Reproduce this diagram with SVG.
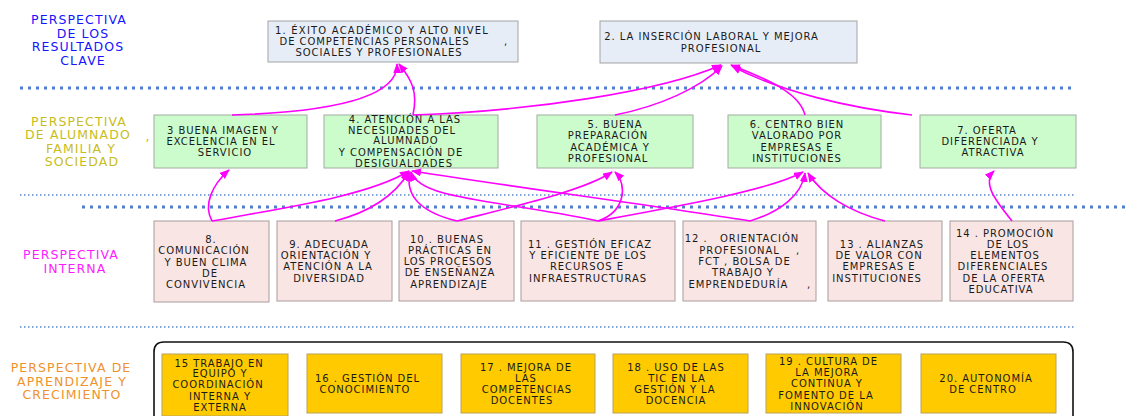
<svg xmlns="http://www.w3.org/2000/svg" width="1126" height="416" viewBox="0 0 1126 416">
<style>
.t{font-family:"DejaVu Sans","Liberation Sans",sans-serif;font-size:10px;letter-spacing:0.95px;fill:#1a1a1a;text-anchor:middle}
.lab{font-family:"DejaVu Sans","Liberation Sans",sans-serif;font-size:12.5px;letter-spacing:1.1px;text-anchor:middle}
.blue{fill:#1414ff}.olive{fill:#c8bd1a}.mag{fill:#ff1aff}.orange{fill:#f0922c}
.top{fill:#e7edf7;stroke:#a3a3a3;stroke-width:1}
.grn{fill:#ccfccc;stroke:#a3aca3;stroke-width:1}
.pnk{fill:#f9e6e4;stroke:#a89c9c;stroke-width:1}
.yel{fill:#ffcb00;stroke:#b9a15a;stroke-width:1}
.dotA{stroke:#4f7fcb;stroke-width:3;stroke-dasharray:3 5;fill:none}
.dotB{stroke:#5a88cc;stroke-width:1.5;stroke-dasharray:1.5 2.5;fill:none}
.c{fill:none;stroke:#ff00ff;stroke-width:1.6;marker-end:url(#ah)}
</style>
<defs>
<marker id="ah" viewBox="0 0 10 8" refX="9" refY="4" markerWidth="10" markerHeight="8" markerUnits="userSpaceOnUse" orient="auto">
<path d="M0,0 L10,4 L0,8 z" fill="#ff00ff"/>
</marker>
</defs>
<rect width="1126" height="416" fill="#ffffff"/>

<g id="separators">
<line class="dotA" x1="20" y1="88" x2="1075" y2="88"/>
<line class="dotB" x1="20" y1="195" x2="1075" y2="195"/>
<line class="dotA" x1="82" y1="207" x2="1126" y2="207"/>
<line class="dotB" x1="20" y1="327" x2="1075" y2="327"/>
</g>

<g id="labels">
<text class="lab blue" x="79" y="23.5">PERSPECTIVA</text>
<text class="lab blue" x="83" y="37.5">DE LOS</text>
<text class="lab blue" x="78" y="51">RESULTADOS</text>
<text class="lab blue" x="83" y="64.5">CLAVE</text>
<text class="lab olive" x="79" y="125.5">PERSPECTIVA</text>
<text class="lab olive" x="78" y="138.5">DE ALUMNADO</text>
<text class="lab olive" x="81" y="152.5">FAMILIA Y</text>
<text class="lab olive" x="82" y="165.5">SOCIEDAD</text>
<text class="lab olive" x="148" y="141">,</text>
<text class="lab mag" x="71" y="258.5">PERSPECTIVA</text>
<text class="lab mag" x="75" y="272.5">INTERNA</text>
<text class="lab orange" x="71" y="371.5">PERSPECTIVA DE</text>
<text class="lab orange" x="72" y="385.5">APRENDIZAJE Y</text>
<text class="lab orange" x="72" y="398.5">CRECIMIENTO</text>
</g>

<g id="container">
<path d="M154,426 V352 Q154,342 164,342 H1063 Q1073,342 1073,352 V426" fill="none" stroke="#111111" stroke-width="1.6"/>
</g>

<g id="n1"><rect class="top" x="268" y="21" width="250" height="41"/>
<text class="t" x="382" y="33.6" style="letter-spacing:1.2px">1. ÉXITO ACADÉMICO Y ALTO NIVEL</text>
<text class="t" x="374.5" y="44.6">DE COMPETENCIAS PERSONALES</text>
<text class="t" x="506" y="44.6">,</text>
<text class="t" x="379" y="55.6">SOCIALES Y PROFESIONALES</text></g>

<g id="n2"><rect class="top" x="600" y="21" width="257" height="42"/>
<text class="t" x="711.5" y="39.6">2. LA INSERCIÓN LABORAL Y MEJORA</text>
<text class="t" x="721" y="51.6">PROFESIONAL</text></g>

<g id="n3"><rect class="grn" x="154" y="115" width="153" height="53"/>
<text class="t" x="223" y="133.6">3 BUENA IMAGEN Y</text>
<text class="t" x="221" y="144.6">EXCELENCIA EN EL</text>
<text class="t" x="225" y="155.6">SERVICIO</text></g>

<g id="n4"><rect class="grn" x="324" y="115" width="174" height="53"/>
<text class="t" x="405" y="122.6">4. ATENCIÓN A LAS</text>
<text class="t" x="402" y="133.6">NECESIDADES DEL</text>
<text class="t" x="406" y="144.4">ALUMNADO</text>
<text class="t" x="401" y="155.9">Y COMPENSACIÓN DE</text>
<text class="t" x="404" y="167.3">DESIGUALDADES</text></g>

<g id="n5"><rect class="grn" x="537" y="115" width="156" height="53"/>
<text class="t" x="615" y="127.6">5. BUENA</text>
<text class="t" x="608" y="138.6">PREPARACIÓN</text>
<text class="t" x="610" y="150.6">ACADÉMICA Y</text>
<text class="t" x="608" y="161.6">PROFESIONAL</text></g>

<g id="n6"><rect class="grn" x="728" y="115" width="153" height="53"/>
<text class="t" x="797" y="127.6">6. CENTRO BIEN</text>
<text class="t" x="797" y="138.6">VALORADO POR</text>
<text class="t" x="797" y="150.6">EMPRESAS E</text>
<text class="t" x="797" y="161.6">INSTITUCIONES</text></g>

<g id="n7"><rect class="grn" x="920" y="115" width="156" height="53"/>
<text class="t" x="987" y="133.6">7. OFERTA</text>
<text class="t" x="990" y="144.6">DIFERENCIADA Y</text>
<text class="t" x="993" y="155.6">ATRACTIVA</text></g>

<g id="n8"><rect class="pnk" x="154" y="221" width="115" height="81"/>
<text class="t" x="211" y="242.6">8.</text>
<text class="t" x="204" y="253.6">COMUNICACIÓN</text>
<text class="t" x="206" y="265.6">Y BUEN CLIMA</text>
<text class="t" x="210" y="276.6">DE</text>
<text class="t" x="206" y="287.6">CONVIVENCIA</text></g>

<g id="n9"><rect class="pnk" x="277" y="221" width="115" height="80"/>
<text class="t" x="329" y="247.6">9. ADECUADA</text>
<text class="t" x="326" y="258.6">ORIENTACIÓN Y</text>
<text class="t" x="328" y="269.6">ATENCIÓN A LA</text>
<text class="t" x="329" y="281.6">DIVERSIDAD</text></g>

<g id="n10"><rect class="pnk" x="399" y="221" width="115" height="80"/>
<text class="t" x="447" y="242.6">10 . BUENAS</text>
<text class="t" x="450" y="253.6">PRÁCTICAS EN</text>
<text class="t" x="448" y="264.6">LOS PROCESOS</text>
<text class="t" x="450" y="275.6">DE ENSEÑANZA</text>
<text class="t" x="449" y="287.6">APRENDIZAJE</text></g>

<g id="n11"><rect class="pnk" x="521" y="221" width="154" height="80"/>
<text class="t" x="590" y="247.6">11 . GESTIÓN EFICAZ</text>
<text class="t" x="588" y="258.6">Y EFICIENTE DE LOS</text>
<text class="t" x="587" y="269.6">RECURSOS E</text>
<text class="t" x="588" y="281.6">INFRAESTRUCTURAS</text></g>

<g id="n12"><rect class="pnk" x="683" y="221" width="133" height="80"/>
<text class="t" x="742" y="241.6" xml:space="preserve">12 .   ORIENTACIÓN</text>
<text class="t" x="739.5" y="253.6">PROFESIONAL</text>
<text class="t" x="798" y="253.6">,</text>
<text class="t" x="744.5" y="264.6">FCT , BOLSA DE</text>
<text class="t" x="743" y="275.6">TRABAJO Y</text>
<text class="t" x="738.5" y="287.6">EMPRENDEDURÍA</text>
<text class="t" x="809" y="287.6">,</text></g>

<g id="n13"><rect class="pnk" x="828" y="221" width="114" height="80"/>
<text class="t" x="882" y="247.6">13 . ALIANZAS</text>
<text class="t" x="879" y="258.6">DE VALOR CON</text>
<text class="t" x="879" y="270.1">EMPRESAS E</text>
<text class="t" x="877" y="281.6">INSTITUCIONES</text></g>

<g id="n14"><rect class="pnk" x="950" y="221" width="123" height="80"/>
<text class="t" x="1005" y="236.6">14 . PROMOCIÓN</text>
<text class="t" x="1008" y="247.6">DE LOS</text>
<text class="t" x="1005" y="258.6">ELEMENTOS</text>
<text class="t" x="1003" y="270.1">DIFERENCIALES</text>
<text class="t" x="1004" y="281.6">DE LA OFERTA</text>
<text class="t" x="1001" y="292.6">EDUCATIVA</text></g>

<g id="n15"><rect class="yel" x="162" y="354" width="126" height="62"/>
<text class="t" x="219" y="366.6">15 TRABAJO EN</text>
<text class="t" x="220" y="376.6">EQUIPO Y</text>
<text class="t" x="218" y="387.6">COORDINACIÓN</text>
<text class="t" x="220" y="399.6">INTERNA Y</text>
<text class="t" x="220" y="410.6">EXTERNA</text></g>

<g id="n16"><rect class="yel" x="307" y="354" width="135" height="59"/>
<text class="t" x="367.5" y="381.6">16 . GESTIÓN DEL</text>
<text class="t" x="365" y="392.6">CONOCIMIENTO</text></g>

<g id="n17"><rect class="yel" x="461" y="354" width="134" height="59"/>
<text class="t" x="526" y="370.6">17 . MEJORA DE</text>
<text class="t" x="526" y="381.6">LAS</text>
<text class="t" x="527" y="392.6">COMPETENCIAS</text>
<text class="t" x="522" y="404.1">DOCENTES</text></g>

<g id="n18"><rect class="yel" x="613" y="354" width="135" height="59"/>
<text class="t" x="676" y="370.6">18 . USO DE LAS</text>
<text class="t" x="677" y="381.6">TIC EN LA</text>
<text class="t" x="675" y="392.6">GESTIÓN Y LA</text>
<text class="t" x="676" y="403.6">DOCENCIA</text></g>

<g id="n19"><rect class="yel" x="766" y="354" width="135" height="59"/>
<text class="t" x="828.5" y="364.6">19 . CULTURA DE</text>
<text class="t" x="827" y="375.6">LA MEJORA</text>
<text class="t" x="827" y="386.6">CONTINUA Y</text>
<text class="t" x="826" y="398.6">FOMENTO DE LA</text>
<text class="t" x="827" y="409.6">INNOVACIÓN</text></g>

<g id="n20"><rect class="yel" x="921" y="354" width="135" height="59"/>
<text class="t" x="986" y="381.6">20. AUTONOMÍA</text>
<text class="t" x="983" y="392.6">DE CENTRO</text></g>

<g id="connectors">
<path class="c" d="M232,115 C330,112 398,98 397,64"/>
<path class="c" d="M413,115 C418,92 412,80 399,64"/>
<path class="c" d="M413,115 C530,111 660,92 721,65"/>
<path class="c" d="M615,115 C660,106 700,88 722,66"/>
<path class="c" d="M805,115 C800,95 775,82 731,65"/>
<path class="c" d="M912,115 C850,108 780,92 732,66"/>
<path class="c" d="M212,221 C203,205 212,185 229,170"/>
<path class="c" d="M212,221 C290,207 370,195 409,171"/>
<path class="c" d="M335,221 C370,212 395,195 409,172"/>
<path class="c" d="M457,221 C420,212 405,195 410,172"/>
<path class="c" d="M598,221 C500,200 420,200 411,172"/>
<path class="c" d="M750,221 C650,205 500,185 412,171"/>
<path class="c" d="M457,221 C520,205 585,190 612,172"/>
<path class="c" d="M598,221 C625,212 628,185 615,172"/>
<path class="c" d="M598,221 C680,206 770,190 803,172"/>
<path class="c" d="M750,221 C780,212 802,195 805,173"/>
<path class="c" d="M885,221 C850,212 822,195 808,173"/>
<path class="c" d="M1012,221 C995,200 982,183 994,171"/>
</g>
</svg>
